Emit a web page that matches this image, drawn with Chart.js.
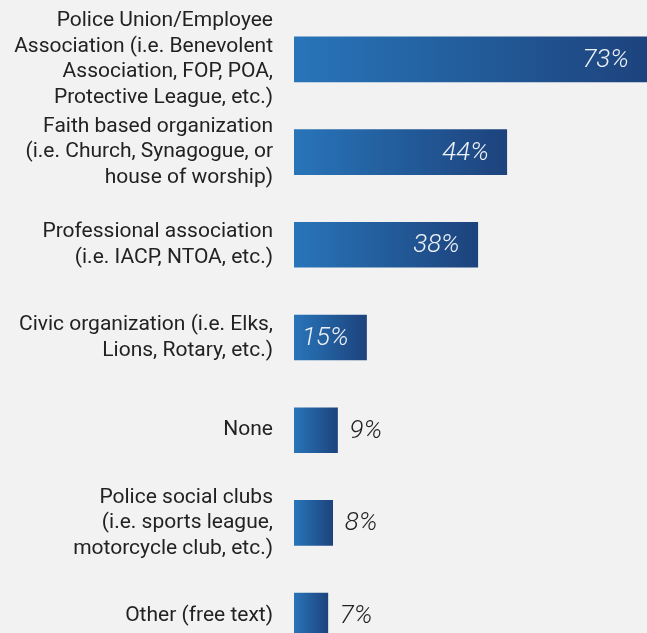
<!DOCTYPE html>
<html>
<head>
<meta charset="utf-8">
<script src="https://cdn.jsdelivr.net/npm/chart.js@4/dist/chart.umd.min.js"></script>
<style>
  html, body { margin: 0; padding: 0; background: #f2f2f2; overflow: hidden; }
  body { width: 647px; height: 633px; }
  #wrap { width: 647px; height: 662px; position: relative; }
</style>
</head>
<body>
<div id="wrap"><canvas id="c"></canvas></div>
<script>
// Affiliations (multi-line category labels)
const categories = [
  ["Police Union/Employee", "Association (i.e. Benevolent", "Association, FOP, POA,", "Protective League, etc.)"],
  ["Faith based organization", "(i.e. Church, Synagogue, or", "house of worship)"],
  ["Professional association", "(i.e. IACP, NTOA, etc.)"],
  ["Civic organization (i.e. Elks,", "Lions, Rotary, etc.)"],
  ["None"],
  ["Police social clubs", "(i.e. sports league,", "motorcycle club, etc.)"],
  ["Other (free text)"]
];
// Share of respondents, percent
const values = [73, 44, 38, 15, 9, 8, 7];
const INSIDE_MIN = 15;

// Horizontal gradient running along each bar, from its base to its end
function barGradient(c) {
  const chart = c.chart;
  if (!chart.chartArea) return '#2874b8';
  const xs = chart.scales.x;
  const x0 = xs.getPixelForValue(0);
  const x1 = xs.getPixelForValue(c.raw);
  const g = chart.ctx.createLinearGradient(x0, 0, Math.max(x1, x0 + 1), 0);
  g.addColorStop(0, '#2875b9');
  g.addColorStop(1, '#1d437d');
  return g;
}

const valueLabels = {
  id: 'valueLabels',
  afterDatasetsDraw(chart) {
    const ctx = chart.ctx;
    ctx.save();
    ctx.font = 'italic 300 26px Roboto';
    ctx.textBaseline = 'middle';
    chart.getDatasetMeta(0).data.forEach((el, i) => {
      const v = values[i];
      const txt = v + '%';
      if (v >= INSIDE_MIN) {
        ctx.fillStyle = '#eef2f7';
        ctx.textAlign = 'right';
        ctx.fillText(txt, el.x - 18, el.y + 1);
      } else {
        ctx.fillStyle = '#222222';
        ctx.textAlign = 'left';
        ctx.fillText(txt, el.x + 12, el.y + 1);
      }
    });
    ctx.restore();
  }
};

new Chart(document.getElementById('c'), {
  type: 'bar',
  data: {
    labels: categories,
    datasets: [{
      data: values,
      backgroundColor: barGradient,
      borderWidth: 0,
      barThickness: 45
    }]
  },
  options: {
    indexAxis: 'y',
    responsive: true,
    maintainAspectRatio: false,
    animation: false,
    layout: { padding: { top: 13, right: 0, bottom: 0, left: 0 } },
    plugins: { legend: { display: false }, tooltip: { enabled: false } },
    scales: {
      x: { display: false, min: 0, max: 73 },
      y: {
        grid: { display: false, drawTicks: false },
        border: { display: false },
        ticks: {
          color: '#222222',
          padding: 21,
          autoSkip: false,
          font: { family: 'Roboto', size: 21, lineHeight: 1.22 }
        },
        afterFit(scale) {
          scale.width = 294;
          scale.paddingTop = 0;
          scale.paddingBottom = 0;
        }
      }
    }
  },
  plugins: [valueLabels]
});
</script>
</body>
</html>
